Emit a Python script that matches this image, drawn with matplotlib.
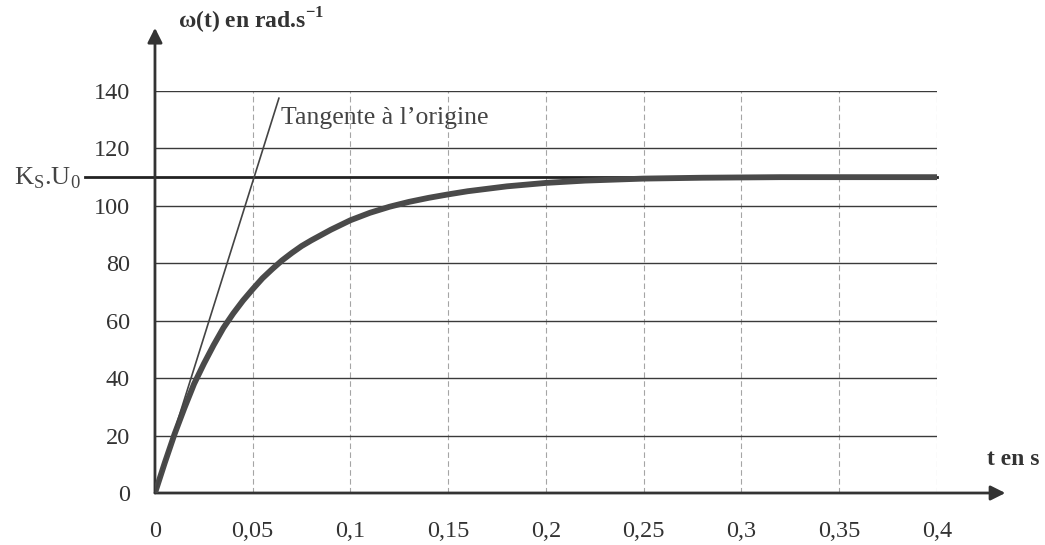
import matplotlib.pyplot as plt
from matplotlib.ticker import FixedLocator

plt.rcParams["font.family"] = ["Liberation Serif", "DejaVu Serif"]

# values
t = [0.0, 0.005, 0.01, 0.015, 0.02, 0.025, 0.03, 0.035, 0.04, 0.045, 0.05,
     0.055, 0.06, 0.065, 0.07, 0.075, 0.08, 0.09, 0.1, 0.11, 0.12, 0.13,
     0.14, 0.15, 0.16, 0.18, 0.2, 0.22, 0.25, 0.28, 0.32, 0.4]
w = [0.0, 10.5, 20.5, 29.5, 38.0, 45.0, 51.5, 57.5, 62.5, 67.0, 71.0,
     74.8, 78.0, 81.0, 83.6, 86.0, 88.0, 91.7, 95.0, 97.6, 99.7, 101.4,
     102.8, 104.0, 105.1, 106.8, 108.0, 108.8, 109.5, 109.8, 110.0, 110.0]

t_tan = [0.0, 0.0634]
w_tan = [0.0, 137.5]

ks_u0 = 110
xticks = [0, 0.05, 0.1, 0.15, 0.2, 0.25, 0.3, 0.35, 0.4]
xlabels = ["0", "0,05", "0,1", "0,15", "0,2", "0,25", "0,3", "0,35", "0,4"]
yticks = [0, 20, 40, 60, 80, 100, 120, 140]

fig = plt.figure(figsize=(10.45, 5.45), dpi=100)
ax = fig.add_axes([0.1483, 0.0954, 0.7483, 0.7376])
ax.set_xlim(0, 0.4)
ax.set_ylim(0, 140)

for s in ax.spines.values():
    s.set_visible(False)

# grid
for x in xticks[1:]:
    ax.axvline(x, color="#a5a5a5", lw=0.8, ls=(0, (5, 3)), zorder=1)
for y in yticks[1:]:
    ax.axhline(y, color="#3a3a3a", lw=1.0, zorder=1)

# Ks.U0 line, going out to the left of the axes
ax.plot([-0.036, 0.4], [ks_u0, ks_u0], color="#222222", lw=2.0,
        clip_on=False, zorder=2)
ax.text(-0.038, ks_u0 - 0.5, r"K$_\mathregular{S}$.U$_\mathregular{0}$",
        ha="right", va="center", fontsize=19, color="#444444")

# axes with arrows
ax.annotate("", xy=(0.435, 0), xytext=(0, 0), xycoords="data",
            annotation_clip=False,
            arrowprops=dict(arrowstyle="-|>", color="#333333", lw=2.0,
                            mutation_scale=22, shrinkA=0, shrinkB=0))
ax.annotate("", xy=(0, 162), xytext=(0, 0), xycoords="data",
            annotation_clip=False,
            arrowprops=dict(arrowstyle="-|>", color="#333333", lw=2.0,
                            mutation_scale=22, shrinkA=0, shrinkB=0))

ax.plot(t, w, color="#4a4a4a", lw=4.2, solid_capstyle="round",
        solid_joinstyle="round", zorder=3)
ax.plot(t_tan, w_tan, color="#444444", lw=1.2, zorder=3)
ax.text(0.0645, 130.5, "Tangente à l\u2019origine", fontsize=18.5,
        color="#444444", ha="left", va="center")

ax.xaxis.set_major_locator(FixedLocator(xticks))
ax.set_xticklabels(xlabels)
ax.set_yticks(yticks)
ax.tick_params(length=0, labelsize=17.5, colors="#333333")
ax.tick_params(axis="x", pad=20)
ax.tick_params(axis="y", pad=18)

ax.text(0.012, 164.5, "ω(t) en rad.s$^{\\mathregular{-1}}$",
        fontsize=17, fontweight="bold", color="#333333", ha="left",
        va="center")
ax.text(0.439, 11.5, "t en s", fontsize=17, fontweight="bold",
        color="#333333", ha="center", va="center", clip_on=False)

fig.savefig("out.png", dpi=100, facecolor="white")
